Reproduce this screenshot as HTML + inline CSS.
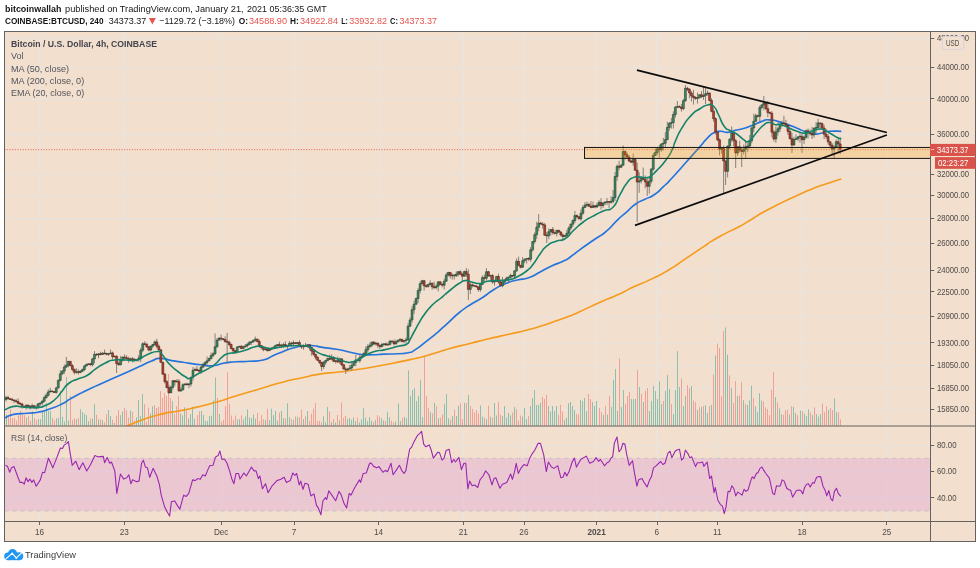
<!DOCTYPE html><html><head><meta charset="utf-8"><title>BTCUSD</title><style>
html,body{margin:0;padding:0;background:#fff;}body{width:980px;height:568px;overflow:hidden;position:relative;font-family:"Liberation Sans",sans-serif;}svg{position:absolute;left:0;top:0;display:block;will-change:transform}text{font-family:"Liberation Sans",sans-serif}
</style></head><body>
<svg width="980" height="568" viewBox="0 0 980 568">
<text x="5" y="11.9" font-size="9.3" fill="#161616" font-weight="bold" textLength="56.5" lengthAdjust="spacingAndGlyphs">bitcoinwallah</text>
<text x="65" y="11.9" font-size="9.3" fill="#161616" textLength="178.6" lengthAdjust="spacingAndGlyphs">published on TradingView.com, January 21,</text>
<text x="247" y="11.9" font-size="9.3" fill="#161616" textLength="79.75" lengthAdjust="spacingAndGlyphs">2021 05:36:35 GMT</text>
<text x="5" y="24.2" font-size="9.3" fill="#161616" font-weight="bold" textLength="98.5" lengthAdjust="spacingAndGlyphs">COINBASE:BTCUSD, 240</text>
<text x="108.75" y="24.2" font-size="9.3" fill="#161616" textLength="37.5" lengthAdjust="spacingAndGlyphs">34373.37</text>
<path d="M148.9 17.9h6.9l-3.45 6.6z" fill="#e8534c"/>
<text x="159.25" y="24.2" font-size="9.3" fill="#161616" textLength="75.75" lengthAdjust="spacingAndGlyphs">&#8722;1129.72 (&#8722;3.18%)</text>
<text x="238.75" y="24.2" font-size="9.3" fill="#161616" font-weight="bold" textLength="9.25" lengthAdjust="spacingAndGlyphs">O:</text>
<text x="248.9" y="24.2" font-size="9.3" fill="#e8534c" textLength="38.1" lengthAdjust="spacingAndGlyphs">34588.90</text>
<text x="290" y="24.2" font-size="9.3" fill="#161616" font-weight="bold" textLength="8.75" lengthAdjust="spacingAndGlyphs">H:</text>
<text x="300" y="24.2" font-size="9.3" fill="#e8534c" textLength="38" lengthAdjust="spacingAndGlyphs">34922.84</text>
<text x="341.25" y="24.2" font-size="9.3" fill="#161616" font-weight="bold" textLength="6.75" lengthAdjust="spacingAndGlyphs">L:</text>
<text x="349.25" y="24.2" font-size="9.3" fill="#e8534c" textLength="37.75" lengthAdjust="spacingAndGlyphs">33932.82</text>
<text x="390" y="24.2" font-size="9.3" fill="#161616" font-weight="bold" textLength="8" lengthAdjust="spacingAndGlyphs">C:</text>
<text x="399.5" y="24.2" font-size="9.3" fill="#e8534c" textLength="37.5" lengthAdjust="spacingAndGlyphs">34373.37</text>
<rect x="4.5" y="31.5" width="971.0" height="510.0" fill="#f2dfcd"/>
<path d="M39.75 31.5V521.5M124.45 31.5V521.5M221.45 31.5V521.5M294.25 31.5V521.5M378.75 31.5V521.5M463.45 31.5V521.5M524.15 31.5V521.5M596.85 31.5V521.5M657.05 31.5V521.5M717.45 31.5V521.5M802.25 31.5V521.5M886.95 31.5V521.5M4.5 38.5H930.5M4.5 67.3H930.5M4.5 99.05H930.5M4.5 134.5H930.5M4.5 174.2H930.5M4.5 195.8H930.5M4.5 218.55H930.5M4.5 243.55H930.5M4.5 270.3H930.5M4.5 292.05H930.5M4.5 316.8H930.5M4.5 343.05H930.5M4.5 365.55H930.5M4.5 388.55H930.5M4.5 409.55H930.5M4.5 445.55H930.5M4.5 471.55H930.5M4.5 498.05H930.5" stroke="#eae4de" stroke-width="1.3" fill="none"/>
<defs><clipPath id="cm"><rect x="5.0" y="32.0" width="925.0" height="394.0"/></clipPath></defs>
<g clip-path="url(#cm)">
<path d="M6.5 425.7V414.8M26.5 425.7V417.72M32.5 425.7V411.56M38.5 425.7V419.01M40.5 425.7V419.15M42.5 425.7V411.99M44.5 425.7V410.59M46.5 425.7V403M48.5 425.7V411.13M50.5 425.7V411.23M56.5 425.7V418.35M58.5 425.7V417.91M60.5 425.7V391M62.5 425.7V416.93M64.5 425.7V421.54M66.5 425.7V377M68.5 425.7V420.61M76.5 425.7V419.07M80.5 425.7V409.2M82.5 425.7V412.2M84.5 425.7V413.69M86.5 425.7V415.17M88.5 425.7V421.1M92.5 425.7V418.7M94.5 425.7V404M98.5 425.7V419.45M102.5 425.7V420.22M108.5 425.7V409.96M110.5 425.7V416.05M114.5 425.7V422.99M120.5 425.7V415.12M122.5 425.7V411.72M130.5 425.7V410.51M136.5 425.7V417.42M138.5 425.7V400M140.5 425.7V416.15M142.5 425.7V394M150.5 425.7V413.56M152.5 425.7V406.44M172.5 425.7V401M180.5 425.7V413.57M182.5 425.7V415.42M184.5 425.7V407.4M188.5 425.7V418.34M190.5 425.7V414M192.5 425.7V406.87M194.5 425.7V418.78M201.5 425.7V410.98M203.5 425.7V415.01M205.5 425.7V420.93M207.5 425.7V420.81M209.5 425.7V416.25M211.5 425.7V415.68M213.5 425.7V400.48M215.5 425.7V377.5M219.5 425.7V413.98M237.5 425.7V419.46M239.5 425.7V419.22M243.5 425.7V419.33M245.5 425.7V416.45M247.5 425.7V409.46M249.5 425.7V417.47M251.5 425.7V418.09M253.5 425.7V414.57M255.5 425.7V418.81M265.5 425.7V420.07M269.5 425.7V420.22M271.5 425.7V408.78M273.5 425.7V415.16M275.5 425.7V410.9M277.5 425.7V420.57M281.5 425.7V410.98M283.5 425.7V418.26M287.5 425.7V403.29M289.5 425.7V417.3M293.5 425.7V419.83M297.5 425.7V416.8M303.5 425.7V419.04M307.5 425.7V411.27M323.5 425.7V416.35M325.5 425.7V422.34M327.5 425.7V407M331.5 425.7V421.95M335.5 425.7V422.43M339.5 425.7V420.14M347.5 425.7V419.1M349.5 425.7V417.97M351.5 425.7V419.66M353.5 425.7V417.62M355.5 425.7V421.12M359.5 425.7V422.45M361.5 425.7V419.5M363.5 425.7V408.16M365.5 425.7V417.75M367.5 425.7V421.3M369.5 425.7V417.11M371.5 425.7V420.69M375.5 425.7V420.14M381.5 425.7V418.34M383.5 425.7V420.59M387.5 425.7V411.93M389.5 425.7V417.15M395.5 425.7V421.51M398.5 425.7V403.43M400.5 425.7V421.07M404.5 425.7V416.89M406.5 425.7V418.03M408.5 425.7V370.4M410.5 425.7V396M412.5 425.7V390M414.5 425.7V388M416.5 425.7V401M418.5 425.7V396M420.5 425.7V380M422.5 425.7V417.14M430.5 425.7V412.31M434.5 425.7V403M438.5 425.7V418.2M444.5 425.7V404M446.5 425.7V394M448.5 425.7V418.32M452.5 425.7V416.15M456.5 425.7V416M458.5 425.7V405.77M464.5 425.7V402.96M468.5 425.7V395M480.5 425.7V405.54M482.5 425.7V416.58M486.5 425.7V419.31M490.5 425.7V416.81M494.5 425.7V403M496.5 425.7V415.51M502.5 425.7V416.19M504.5 425.7V406M506.5 425.7V417.42M508.5 425.7V412.92M510.5 425.7V415.35M514.5 425.7V407M522.5 425.7V416.58M524.5 425.7V407.73M526.5 425.7V419.18M530.5 425.7V406M532.5 425.7V398M534.5 425.7V390M536.5 425.7V405M538.5 425.7V405M540.5 425.7V403M548.5 425.7V406M550.5 425.7V411.5M552.5 425.7V406M554.5 425.7V411M556.5 425.7V406M564.5 425.7V419.86M566.5 425.7V417.78M568.5 425.7V403.25M570.5 425.7V402M572.5 425.7V406M574.5 425.7V410.17M580.5 425.7V400M582.5 425.7V401M584.5 425.7V398M586.5 425.7V411.15M592.5 425.7V402M594.5 425.7V406M596.5 425.7V401M603.5 425.7V415.02M607.5 425.7V414.53M611.5 425.7V407.04M613.5 425.7V380M615.5 425.7V369M617.5 425.7V410.82M621.5 425.7V407M623.5 425.7V390M631.5 425.7V399M633.5 425.7V399M635.5 425.7V399M639.5 425.7V387M643.5 425.7V402M649.5 425.7V411M651.5 425.7V401M653.5 425.7V386M655.5 425.7V391M657.5 425.7V399M659.5 425.7V381.4M661.5 425.7V404M665.5 425.7V391M667.5 425.7V375M669.5 425.7V389M673.5 425.7V414M675.5 425.7V390M677.5 425.7V351.3M679.5 425.7V387M683.5 425.7V406M685.5 425.7V396M691.5 425.7V386M697.5 425.7V410M701.5 425.7V407M705.5 425.7V405.4M707.5 425.7V413M711.5 425.7V405M715.5 425.7V355.4M725.5 425.7V327.4M727.5 425.7V354.6M731.5 425.7V388M737.5 425.7V396M743.5 425.7V400.3M747.5 425.7V405M749.5 425.7V400.3M751.5 425.7V385.6M755.5 425.7V406.4M757.5 425.7V411.7M759.5 425.7V393.1M761.5 425.7V400.5M775.5 425.7V397.2M779.5 425.7V408.4M781.5 425.7V414.2M789.5 425.7V414.6M793.5 425.7V406.8M795.5 425.7V413.1M800.5 425.7V410.5M804.5 425.7V413.6M806.5 425.7V416.2M808.5 425.7V409.5M812.5 425.7V415.2M816.5 425.7V414.2M818.5 425.7V416.6M820.5 425.7V414.2M828.5 425.7V410M834.5 425.7V398.4M836.5 425.7V412.1" stroke="#8ac0ad" stroke-width="1" fill="none"/>
<path d="M8.5 425.7V415.6M10.5 425.7V408.69M12.5 425.7V418.28M14.5 425.7V417.96M16.5 425.7V420.55M18.5 425.7V415.49M20.5 425.7V410.67M22.5 425.7V414.98M24.5 425.7V415.36M28.5 425.7V416.23M30.5 425.7V420.94M34.5 425.7V418.09M36.5 425.7V420.03M52.5 425.7V417.95M54.5 425.7V420.45M70.5 425.7V396M72.5 425.7V419.92M74.5 425.7V418.52M78.5 425.7V418.18M90.5 425.7V418.53M96.5 425.7V414.82M100.5 425.7V419.4M104.5 425.7V422.19M106.5 425.7V414.31M112.5 425.7V419.82M116.5 425.7V415.83M118.5 425.7V410.12M124.5 425.7V407.87M126.5 425.7V410.24M128.5 425.7V417.79M132.5 425.7V412.11M134.5 425.7V420.7M144.5 425.7V404M146.5 425.7V421.56M148.5 425.7V407.72M154.5 425.7V405M156.5 425.7V408M158.5 425.7V407M160.5 425.7V391M162.5 425.7V398M164.5 425.7V393M166.5 425.7V396M168.5 425.7V374M170.5 425.7V398M174.5 425.7V414M176.5 425.7V406M178.5 425.7V396M186.5 425.7V410.95M197.5 425.7V415.23M199.5 425.7V411.32M217.5 425.7V398M221.5 425.7V421.7M223.5 425.7V419.86M225.5 425.7V406M227.5 425.7V372.4M229.5 425.7V404M231.5 425.7V415.53M233.5 425.7V419.9M235.5 425.7V415.59M241.5 425.7V415.35M257.5 425.7V412.82M259.5 425.7V421.13M261.5 425.7V415.2M263.5 425.7V419.3M267.5 425.7V408.61M279.5 425.7V412.49M285.5 425.7V418.32M291.5 425.7V419.25M295.5 425.7V416.33M299.5 425.7V417.39M301.5 425.7V409.55M305.5 425.7V416.26M309.5 425.7V420.76M311.5 425.7V413.65M313.5 425.7V408.77M315.5 425.7V403M317.5 425.7V420.97M319.5 425.7V420.84M321.5 425.7V422.32M329.5 425.7V411.3M333.5 425.7V419.01M337.5 425.7V414.93M341.5 425.7V402.5M343.5 425.7V417.83M345.5 425.7V415.96M357.5 425.7V417.8M373.5 425.7V422.01M377.5 425.7V415.12M379.5 425.7V416.62M385.5 425.7V420.93M391.5 425.7V420.65M393.5 425.7V422.71M402.5 425.7V418.1M424.5 425.7V356M426.5 425.7V396M428.5 425.7V408M432.5 425.7V413.26M436.5 425.7V406M440.5 425.7V417.74M442.5 425.7V414.52M450.5 425.7V419.65M454.5 425.7V409.73M460.5 425.7V403M462.5 425.7V419.1M466.5 425.7V403M470.5 425.7V406M472.5 425.7V408.94M474.5 425.7V412.39M476.5 425.7V409.92M478.5 425.7V413.58M484.5 425.7V417.72M488.5 425.7V405.67M492.5 425.7V417.89M498.5 425.7V402M500.5 425.7V414.74M512.5 425.7V412.4M516.5 425.7V409M518.5 425.7V420.79M520.5 425.7V415.52M528.5 425.7V416.16M542.5 425.7V397M544.5 425.7V399M546.5 425.7V395M558.5 425.7V414.85M560.5 425.7V404.84M562.5 425.7V411.44M576.5 425.7V414M578.5 425.7V414.55M588.5 425.7V393.82M590.5 425.7V399M599.5 425.7V408M601.5 425.7V411.99M605.5 425.7V406M609.5 425.7V396.02M619.5 425.7V358.4M625.5 425.7V404M627.5 425.7V396M629.5 425.7V392M637.5 425.7V370M641.5 425.7V394M645.5 425.7V391M647.5 425.7V388M663.5 425.7V401M671.5 425.7V404M681.5 425.7V378.5M687.5 425.7V385M689.5 425.7V388M693.5 425.7V400.5M695.5 425.7V402M699.5 425.7V407.5M703.5 425.7V406M709.5 425.7V406M713.5 425.7V374.4M717.5 425.7V343.4M719.5 425.7V348M721.5 425.7V396.4M723.5 425.7V331M729.5 425.7V375.4M733.5 425.7V403M735.5 425.7V381M739.5 425.7V395.4M741.5 425.7V382M745.5 425.7V404M753.5 425.7V398.2M763.5 425.7V401.5M765.5 425.7V407.4M767.5 425.7V409M769.5 425.7V415.2M771.5 425.7V389.7M773.5 425.7V372.3M777.5 425.7V402.5M783.5 425.7V414.8M785.5 425.7V410M787.5 425.7V409.7M791.5 425.7V406.2M797.5 425.7V415.2M802.5 425.7V411.1M810.5 425.7V412.5M814.5 425.7V407.4M822.5 425.7V403.6M824.5 425.7V412.1M826.5 425.7V406.4M830.5 425.7V408M832.5 425.7V410M838.5 425.7V412.1M840.5 425.7V419.3" stroke="#f0a096" stroke-width="1" fill="none"/>
<path d="M4.5 149.6H930.5" stroke="#e8534c" stroke-width="1" stroke-dasharray="1 1.6" fill="none" opacity="0.9"/>
<path d="M127 426C131.97 424 130.83 423.87 141.9 420C152.97 416.13 148 417.4 160.2 414.4C172.4 411.4 168.57 412.9 178.5 411C188.43 409.1 178.53 411.37 190 408.7C201.47 406.03 197.63 407.23 212.9 403C228.17 398.77 220.57 400.6 235.8 396C251.03 391.4 243.37 393.73 258.6 389.2C273.83 384.67 266.23 386.37 281.5 382.4C296.77 378.43 292.23 379.97 304.4 377.3C316.57 374.63 306.57 376.17 318 374.4C329.43 372.63 327.97 373.3 338.7 372C349.43 370.7 338.77 372.17 350.2 370.5C361.63 368.83 360.07 369.17 373 367C385.93 364.83 380.6 365.63 389 364C397.4 362.37 391.2 363.57 398.2 362.1C405.2 360.63 401.57 361.47 410 359.6C418.43 357.73 414.5 358.87 423.5 356.5C432.5 354.13 428.17 355.17 437 352.5C445.83 349.83 439 351.5 450 348.5C461 345.5 456.67 346.83 470 343.5C483.33 340.17 476.67 341.67 490 338.5C503.33 335.33 496.7 337.07 510 334C523.3 330.93 516.03 333.17 529.9 329.3C543.77 325.43 539.03 326.6 551.6 322.4C564.17 318.2 558.47 320.17 567.6 316.7C576.73 313.23 568.2 316.83 579 312C589.8 307.17 587.3 307.83 600 302.2C612.7 296.57 605.67 300.3 617.1 295.1C628.53 289.9 622.87 291.93 634.3 286.6C645.73 281.27 639.97 284.63 651.4 279.1C662.83 273.57 657.17 276.83 668.6 270C680.03 263.17 674.27 266.23 685.7 258.6C697.13 250.97 693.93 253.1 702.9 247.1C711.87 241.1 705.17 245.1 712.6 240.6C720.03 236.1 716.43 238.23 725.2 233.6C733.97 228.97 729.77 231.67 738.9 226.7C748.03 221.73 744.23 223.67 752.6 218.7C760.97 213.73 754.87 216.87 764 211.8C773.13 206.73 769.33 208.77 780 203.5C790.67 198.23 785.33 200.83 796 196C806.67 191.17 802.07 193.03 812 189C821.93 184.97 816.03 187.27 825.8 183.9C835.57 180.53 836.13 180.57 841.3 178.9" fill="none" stroke="#f59a1b" stroke-width="1.6" stroke-linejoin="round"/>
<path d="M5 417.8C7.9 416.67 6.2 415.9 13.7 414.4C21.2 412.9 19.1 414.1 27.5 413.3C35.9 412.5 31.3 413.53 38.9 412C46.5 410.47 42.67 411.37 50.3 408.7C57.93 406.03 54.17 407.8 61.8 404C69.43 400.2 63.3 402.63 73.2 397.3C83.1 391.97 77.77 394.5 91.5 388C105.23 381.5 99.13 384.63 114.4 377.8C129.67 370.97 125.1 373 137.3 367.5C149.5 362 143.37 364.33 151 361.3C158.63 358.27 153.33 358.63 160.2 358.4C167.07 358.17 164 359.33 171.6 360.6C179.2 361.87 176.87 361.27 183 362.2C189.13 363.13 183.87 362.53 190 363.4C196.13 364.27 193.77 364.03 201.4 364.8C209.03 365.57 205.27 366.3 212.9 365.7C220.53 365.1 216.67 364.3 224.3 363C231.93 361.7 227.4 362.37 235.8 361.8C244.2 361.23 240.37 361.9 249.5 361.3C258.63 360.7 255.57 361.77 263.2 360C270.83 358.23 266.3 358.6 272.4 356C278.5 353.4 274.63 354.87 281.5 352.2C288.37 349.53 285.37 350.13 293 348C300.63 345.87 297.53 346.53 304.4 345.8C311.27 345.07 307.5 345.27 313.6 345.8C319.7 346.33 315.07 346.27 322.7 347.4C330.33 348.53 327.33 347.6 336.5 349.2C345.67 350.8 341.83 350.43 350.2 352.2C358.57 353.97 354 353.67 361.6 354.5C369.2 355.33 365.53 354.83 373 354.7C380.47 354.57 375.6 354.43 384 354.1C392.4 353.77 390.2 354.17 398.2 353.7C406.2 353.23 402.4 353.97 408 352.7C413.6 351.43 408.9 353.67 415 349.9C421.1 346.13 418.77 347.27 426.3 341.4C433.83 335.53 432.83 336.23 437.6 332.3C442.37 328.37 436.93 332.9 440.6 329.6C444.27 326.3 442.13 328.27 448.6 322.4C455.07 316.53 452.37 318.13 460 312C467.63 305.87 463.83 308.9 471.5 304C479.17 299.1 475.37 302.23 483 297.3C490.63 292.37 486.77 293.8 494.4 289.2C502.03 284.6 498.27 286.57 505.9 283.5C513.53 280.43 509.7 281.9 517.3 280C524.9 278.1 521.07 280.47 528.7 277.8C536.33 275.13 532.57 275.93 540.2 272C547.83 268.07 544 269.57 551.6 266C559.2 262.43 556.87 264.23 563 261.3C569.13 258.37 564.67 260.87 570 257.2C575.33 253.53 570.77 256.27 579 250.3C587.23 244.33 585.63 245.63 594.7 239.3C603.77 232.97 598.57 237.8 606.2 231.3C613.83 224.8 610.73 226.3 617.6 219.8C624.47 213.3 620.67 217.13 626.8 211.8C632.93 206.47 629.93 208 636 203.8C642.07 199.6 638.93 202.23 645 199.2C651.07 196.17 648.07 198.87 654.2 194.7C660.33 190.53 657.3 192.43 663.4 186.7C669.5 180.97 666.4 184 672.5 177.5C678.6 171 675.57 174.07 681.7 167.2C687.83 160.33 684.8 163.77 690.9 156.9C697 150.03 694.67 152.7 700 146.6C705.33 140.5 702.33 143.17 706.9 138.6C711.47 134.03 709.13 135.33 713.7 132.9C718.27 130.47 716 131.47 720.6 131.3C725.2 131.13 722.93 132.63 727.5 132.4C732.07 132.17 728.97 131.9 734.3 130.6C739.63 129.3 737.4 130.3 743.5 128.5C749.6 126.7 746.5 127.57 752.6 125.2C758.7 122.83 756.43 123.2 761.8 121.4C767.17 119.6 763.33 119.8 768.7 119.8C774.07 119.8 771.7 119.87 777.9 121.4C784.1 122.93 781.1 122.2 787.3 124.4C793.5 126.6 790.4 125.57 796.5 128C802.6 130.43 799.5 129.7 805.6 131.7C811.7 133.7 809.33 133.57 814.8 134C820.27 134.43 817.13 133.9 822 133C826.87 132.1 822.97 131.87 829.4 131.3C835.83 130.73 837.33 131.3 841.3 131.3" fill="none" stroke="#2374dd" stroke-width="1.65" stroke-linejoin="round"/>
<path d="M6.05 395.91V401.61M26.15 404.35V409.71M32.18 403.76V408.08M38.21 403.09V408.37M40.22 402.51V406.16M42.23 400.06V405.52M44.24 395.83V402.43M46.25 393.33V398.54M48.26 389.34V396.5M50.27 387.8V392.33M56.3 386.77V393.56M58.31 379.55V388.64M60.32 370.41V381.58M62.33 369.99V375.05M64.34 364.64V373.93M66.35 357V368.08M68.36 360.88V367.31M76.4 368.17V373.75M80.42 370.34V373.21M82.43 368.6V371.75M84.44 364.94V370.95M86.45 363.35V366.28M88.46 363.29V365.11M92.48 357.8V366.3M94.49 351.17V363.26M98.51 353.23V358.27M102.53 352.35V354.9M108.56 353.05V355.98M110.57 349.56V354.19M114.59 355.61V357.44M120.62 355.91V365.38M122.63 356.53V361.49M130.67 357.49V359.89M136.7 359.04V361.45M138.71 355.29V361.63M140.72 347.86V362.12M142.73 342.27V352.08M150.77 345.51V351.48M152.78 344.17V348.04M154.79 340.36V345.64M170.87 385.77V393.37M172.88 380.1V389.31M176.9 379.04V382.28M180.92 387.19V392.03M182.93 383.22V390.48M184.94 383.2V385.67M188.96 382.95V388.21M190.97 376.6V386.5M192.98 367.04V380.44M194.99 367.63V371.13M201.02 365.78V373.81M203.03 362.78V367.98M205.04 361.22V366.87M207.05 356.39V364.67M209.06 357.55V361.28M211.07 352.67V359.54M213.08 352.24V357.09M215.09 333.5V355.06M217.1 338.02V347.99M219.11 337.34V340.69M237.2 346.11V353.24M239.21 345.99V347.62M243.23 345.65V349.12M245.24 344.01V347.68M247.25 342.76V347.43M249.26 340.94V344.97M251.27 340.96V345.1M253.28 339.66V342.58M255.29 336.55V341.67M265.34 346.69V350.26M269.36 347.68V350.99M271.37 347.12V349.83M273.38 346.05V348.81M275.39 344.89V348.14M277.4 343.93V346.93M281.42 343.89V347.38M283.43 342.83V347.64M287.45 344.87V349.3M289.46 341.04V346.03M293.48 340.49V345.68M297.5 341.81V344.31M303.53 344.38V349.72M307.55 344.37V347.76M323.63 360.93V368.95M325.64 359.79V364.48M327.65 357.49V361.03M331.67 354.43V360.29M335.69 359.88V363.69M339.71 357.78V363.94M347.75 367.94V371.12M349.76 364.97V369.33M351.77 362.37V370.62M353.78 361.07V366.32M355.79 355.12V366.29M359.81 354.86V362.67M361.82 354.74V358.3M363.83 352.13V356.5M365.84 346.3V354.62M367.85 344.06V352.55M369.86 342.48V347.77M371.87 341.64V347.16M375.89 341.77V345.57M381.92 342.79V347.44M383.93 343.01V345.76M387.95 342.38V345.44M389.96 340.5V345.33M395.99 339.88V344.94M398 339.64V342.58M400.01 337.93V341.85M404.03 340.17V343.38M406.04 337.49V343.59M408.05 323.19V340.64M410.06 317.35V326.87M412.07 306.19V322.91M414.08 300.83V313.98M416.09 297.45V305.21M418.1 288.28V303.16M420.11 281.36V293.53M422.12 279.86V284.19M428.15 283.85V287.69M430.16 280.39V285.17M436.19 284.13V289.34M438.2 281.45V291.55M444.23 278.67V289.51M446.24 272.89V281.93M448.25 271.65V276.51M452.27 273.35V279.54M456.29 271.48V276.85M458.3 271.03V276.42M464.33 270.64V276.77M470.36 282.62V294.07M480.41 283.07V291.77M482.42 275.36V284.95M486.44 268.23V280.6M490.46 274.97V279.82M494.48 280.8V285.6M496.49 276.12V281.82M502.52 276.88V287.32M504.53 279.48V284.58M506.54 276.69V280.67M508.55 276.64V282.3M510.56 273.67V278.66M514.58 270.55V277.96M516.59 258.43V271.73M522.62 257.11V267.61M524.63 258.66V263.11M526.64 258.13V263.5M530.66 247.09V261.91M532.67 241.24V251.62M534.68 232.38V243.68M536.69 221.73V238.97M538.7 214V231.26M548.75 228.49V239.17M550.76 228.98V235.62M556.79 229.93V236.49M564.83 234.54V237.15M566.84 230.08V236.96M568.85 226.02V236.31M570.86 223.45V230.06M572.87 219.24V226.94M574.88 211V222.99M580.91 209.39V220.95M582.92 205.38V215.04M584.93 202.17V207.97M586.94 201.64V207.01M592.97 201.6V207.94M596.99 202.6V207.69M599 200.24V206.55M603.02 202.19V207.95M605.03 200.99V205.11M607.04 197.97V205.02M611.06 196.38V203.84M613.07 190.04V203.39M615.08 172.09V200.86M617.09 164.51V180.8M621.11 164.1V167.91M623.12 145.5V165.7M633.17 153.54V165.84M639.2 172.28V192.76M641.21 176.4V183.55M649.25 176.27V193.69M651.26 167.96V183.46M653.27 152.88V170.74M655.28 148.66V155.97M657.29 147.57V154.84M661.31 143.24V151.89M663.32 137.9V150.4M665.33 132.21V147.47M667.34 121.67V140.15M669.35 122.07V130.69M671.36 118.04V128.67M673.37 111.33V128.62M675.38 105.71V117.47M677.39 101V108.09M683.42 98.79V110.17M685.43 85V101.69M697.49 92.7V103.55M699.5 94.38V98.49M703.52 86.9V99.94M705.53 88V104.12M707.54 90.42V95.6M721.61 148.07V153.7M727.64 145.68V177.39M729.65 138.28V149.14M731.66 126.46V142.15M737.69 146.36V155.99M743.72 144.58V154.65M745.73 141.12V158.38M747.74 142.67V151.75M749.75 134.95V148.59M751.76 126.71V143.38M753.77 113.76V132M755.78 113.62V121.78M759.8 105.35V121.48M761.81 104.46V109.12M763.82 96V110.26M775.88 126.55V142.85M777.89 126.94V135.54M779.9 123.86V132.06M781.91 120.63V126.91M793.97 136.76V145.37M795.98 134.32V139.86M797.99 136V141.22M800 132.14V142.74M804.02 135.74V143.94M806.03 129.55V138.71M814.07 127.25V137.83M816.08 122.2V133.37M818.09 118.65V128.87M834.17 145.6V159M836.18 139.53V147.79M8.06 395.78V399.39M10.07 398.03V399.7M12.08 397.7V401.27M14.09 399.41V403.25M16.1 399.09V402.6M18.11 398.31V404.56M20.12 402.08V405.28M22.13 402.9V408.61M24.14 405.6V407.61M28.16 404.19V408.43M30.17 405.25V409.55M34.19 405.29V408.91M36.2 404.75V409.63M52.28 390.54V392.29M54.29 391V393.07M70.37 361.06V366.16M72.38 364.05V371.28M74.39 368.51V374.38M78.41 369.36V374.75M90.47 362.85V365.67M96.5 353.42V355.72M100.52 351.68V355.39M104.54 349.61V354.32M106.55 352.67V355.3M112.58 351.54V359.47M116.6 355.62V373M118.61 361.63V365.54M124.64 354.35V360.4M126.65 355.18V359.35M128.66 356.63V362.66M132.68 357.07V362.32M134.69 358.02V361.7M144.74 341.21V345.14M146.75 342.61V347.88M148.76 346.11V351.31M156.8 338.66V348.28M158.81 344.38V350.98M160.82 349.16V362.63M162.83 361.93V374.56M164.84 373V383.5M166.85 380.04V388.39M168.86 384.73V393.87M174.89 380.15V385.65M178.91 379.07V391.73M186.95 382.61V385.46M197 366.19V371.03M199.01 368.82V371.68M221.12 334.48V340.71M223.13 338.29V340.39M225.14 336.33V343.01M227.15 333V364M229.16 340.53V346.17M231.17 343.46V349.37M233.18 347.78V352.34M235.19 350.38V353.23M241.22 345.03V349.14M257.3 338.53V342.41M259.31 339.65V347.54M261.32 345.18V349.11M263.33 346.28V351.35M267.35 347.31V351.27M279.41 341.75V346.79M285.44 341.46V347.26M291.47 341.88V346.96M295.49 342.29V344.14M299.51 340.23V346.99M301.52 344.84V348.88M305.54 342.9V347.08M309.56 344.22V350.42M311.57 347.03V355.65M313.58 349.48V355.81M315.59 353.78V359.73M317.6 356.2V361.01M319.61 359.94V364.2M321.62 361.72V371M329.66 354.62V360.06M333.68 356.05V362.07M337.7 356.57V362.83M341.72 358.24V366.13M343.73 364.1V369.32M345.74 367.43V374M357.8 358.47V361.45M373.88 341.04V345.32M377.9 342.25V348.1M379.91 344.91V349.17M385.94 342.47V345.42M391.97 340.66V343.25M393.98 339.47V345.65M402.02 338.5V342.57M424.13 279.91V290.54M426.14 284.41V287.86M432.17 282.56V289.81M434.18 281.6V289.06M440.21 281.39V285.09M442.22 283.14V287.39M450.26 272.04V278.46M454.28 274.16V279.51M460.31 270.3V275.01M462.32 272.78V281.88M466.34 267.94V277.03M468.35 269.21V300M472.37 283.48V287.51M474.38 285.13V286.64M476.39 284.89V287.49M478.4 286.09V291.66M484.43 274.44V281.89M488.45 270.87V276.56M492.47 274.26V283.73M498.5 273.63V283.66M500.51 280.12V286.18M512.57 274.94V277.23M518.6 256.74V266.17M520.61 264.96V268.44M528.65 257.24V260.93M540.71 221.85V224.44M542.72 222.1V228.81M544.73 222.9V235.89M546.74 232.13V243M552.77 226.99V234.69M554.78 231.57V234.51M558.8 229.93V232.62M560.81 231.13V236.52M562.82 233.63V240.35M576.89 214.4V218.03M578.9 216.31V219.37M588.95 202.95V206.56M590.96 201.14V208.35M594.98 205.07V208.36M601.01 198.13V209.58M609.05 201.21V208.37M619.1 160.68V170.25M625.13 150.36V159.46M627.14 152.6V157.79M629.15 155.28V162.12M631.16 159.62V162.7M635.18 157.87V170.61M637.19 162.87V222M643.22 167.5V180.06M645.23 175.4V188.24M647.24 178.24V196M659.3 144.96V157.54M679.4 105.25V107.57M681.41 103.89V111.65M687.44 86.87V91.08M689.45 88.22V98.32M691.46 91.17V101.52M693.47 89.8V104.56M695.48 96.2V100.1M701.51 91.16V98.19M709.55 92.63V101.37M711.56 98.23V112.33M713.57 107.47V121.75M715.58 117.42V134.62M717.59 131.5V141.3M719.6 138.34V155.33M723.62 145.63V193.5M725.63 160.53V185M733.67 132V146.37M735.68 138.88V168M739.7 140.76V152.34M741.71 147.23V167M757.79 114.78V117.32M765.83 101.72V109.79M767.84 100.85V117.34M769.85 111.53V114.19M771.86 111.01V137.2M773.87 129.84V141.53M783.92 115.76V124.2M785.93 119.81V126.38M787.94 124.59V135.01M789.95 128.72V139.56M791.96 132.82V153M802.01 133.28V153M808.04 128.5V138.63M810.05 129.49V135.59M812.06 126.87V138.96M820.1 122.56V128.72M822.11 122.45V129.99M824.12 124.87V139.15M826.13 128.78V138.95M828.14 133.73V144.65M830.15 141.33V147.61M832.16 143.15V155.3M838.19 138.21V152.07M840.2 137.26V154.26" stroke="#7a7672" stroke-width="0.9" fill="none"/>
<path d="M5.1 397.53h1.9v1.94h-1.9zM25.2 405.3h1.9v1.84h-1.9zM31.23 405.76h1.9v1.16h-1.9zM37.26 403.83h1.9v4.21h-1.9zM39.27 403h1.9v0.83h-1.9zM41.28 401.3h1.9v1.7h-1.9zM43.29 397.64h1.9v3.66h-1.9zM45.3 395.3h1.9v2.34h-1.9zM47.31 391.9h1.9v3.4h-1.9zM49.32 391h1.9v0.9h-1.9zM55.35 387.88h1.9v4.52h-1.9zM57.36 380.29h1.9v7.58h-1.9zM59.37 373.8h1.9v6.49h-1.9zM61.38 371.11h1.9v2.68h-1.9zM63.39 366.98h1.9v4.13h-1.9zM65.4 365.22h1.9v1.76h-1.9zM67.41 361.37h1.9v3.85h-1.9zM75.45 371.63h1.9v0.7h-1.9zM79.47 371.23h1.9v1.24h-1.9zM81.48 369.44h1.9v1.79h-1.9zM83.49 365.98h1.9v3.46h-1.9zM85.5 364.54h1.9v1.44h-1.9zM87.51 363.82h1.9v0.72h-1.9zM91.53 358.95h1.9v5.84h-1.9zM93.54 354.34h1.9v4.61h-1.9zM97.56 353.81h1.9v1.24h-1.9zM101.58 353h1.9v1.51h-1.9zM107.61 353.6h1.9v0.7h-1.9zM109.62 352.9h1.9v0.7h-1.9zM113.64 356.14h1.9v0.7h-1.9zM119.67 360.09h1.9v4.7h-1.9zM121.68 357.04h1.9v3.05h-1.9zM129.72 358.76h1.9v0.7h-1.9zM135.75 359.74h1.9v0.7h-1.9zM137.76 357.94h1.9v1.8h-1.9zM139.77 350.19h1.9v7.75h-1.9zM141.78 343.73h1.9v6.46h-1.9zM149.82 346.12h1.9v3.94h-1.9zM151.83 344.56h1.9v1.55h-1.9zM153.84 341.89h1.9v2.67h-1.9zM169.92 387.16h1.9v5.47h-1.9zM171.93 380.66h1.9v6.5h-1.9zM175.95 381.21h1.9v0.7h-1.9zM179.97 389.75h1.9v1.12h-1.9zM181.98 384.65h1.9v5.09h-1.9zM183.99 383.95h1.9v0.7h-1.9zM188.01 383.95h1.9v0.7h-1.9zM190.02 377.39h1.9v6.57h-1.9zM192.03 370.37h1.9v7.02h-1.9zM194.04 369.44h1.9v0.93h-1.9zM200.07 367.12h1.9v4.12h-1.9zM202.08 364.67h1.9v2.45h-1.9zM204.09 362.59h1.9v2.08h-1.9zM206.1 360.85h1.9v1.74h-1.9zM208.11 358.57h1.9v2.28h-1.9zM210.12 355.6h1.9v2.97h-1.9zM212.13 353.66h1.9v1.94h-1.9zM214.14 346.7h1.9v6.96h-1.9zM216.15 340.1h1.9v6.6h-1.9zM218.16 338.09h1.9v2.01h-1.9zM236.25 347.04h1.9v4.6h-1.9zM238.26 346.29h1.9v0.76h-1.9zM242.28 346.63h1.9v1.89h-1.9zM244.29 345.97h1.9v0.7h-1.9zM246.3 344.51h1.9v1.46h-1.9zM248.31 342.66h1.9v1.85h-1.9zM250.32 341.86h1.9v0.8h-1.9zM252.33 340.26h1.9v1.59h-1.9zM254.34 339.17h1.9v1.1h-1.9zM264.39 348.93h1.9v0.7h-1.9zM268.41 349.51h1.9v1.17h-1.9zM270.42 348.47h1.9v1.04h-1.9zM272.43 347.57h1.9v0.9h-1.9zM274.44 345.56h1.9v2.01h-1.9zM276.45 344.61h1.9v0.95h-1.9zM280.47 345.31h1.9v0.7h-1.9zM282.48 344.61h1.9v0.7h-1.9zM286.5 345.46h1.9v0.7h-1.9zM288.51 343.17h1.9v2.29h-1.9zM292.53 342.64h1.9v1.26h-1.9zM296.55 342.58h1.9v0.86h-1.9zM302.58 345.44h1.9v1.5h-1.9zM306.6 344.77h1.9v1.51h-1.9zM322.68 362.36h1.9v4.18h-1.9zM324.69 360.57h1.9v1.79h-1.9zM326.7 358.55h1.9v2.01h-1.9zM330.72 357.52h1.9v1.73h-1.9zM334.74 360.69h1.9v0.7h-1.9zM338.76 358.87h1.9v3.08h-1.9zM346.8 369h1.9v0.7h-1.9zM348.81 367.88h1.9v1.12h-1.9zM350.82 365.27h1.9v2.61h-1.9zM352.83 362.42h1.9v2.85h-1.9zM354.84 359.9h1.9v2.52h-1.9zM358.86 357.54h1.9v3.06h-1.9zM360.87 356.13h1.9v1.41h-1.9zM362.88 353.44h1.9v2.69h-1.9zM364.89 349.72h1.9v3.72h-1.9zM366.9 346.71h1.9v3.01h-1.9zM368.91 345.16h1.9v1.55h-1.9zM370.92 342.13h1.9v3.03h-1.9zM374.94 343.31h1.9v0.7h-1.9zM380.97 344.55h1.9v2.04h-1.9zM382.98 343.87h1.9v0.7h-1.9zM387 344.39h1.9v0.71h-1.9zM389.01 341.04h1.9v3.35h-1.9zM395.04 341.81h1.9v1.85h-1.9zM397.05 340.23h1.9v1.58h-1.9zM399.06 339.53h1.9v0.7h-1.9zM403.08 340.49h1.9v0.93h-1.9zM405.09 339.79h1.9v0.7h-1.9zM407.1 326.17h1.9v13.62h-1.9zM409.11 319.98h1.9v6.19h-1.9zM411.12 309.73h1.9v10.25h-1.9zM413.13 304.21h1.9v5.52h-1.9zM415.14 298.61h1.9v5.6h-1.9zM417.15 290.51h1.9v8.09h-1.9zM419.16 283.71h1.9v6.81h-1.9zM421.17 280.7h1.9v3h-1.9zM427.2 284.46h1.9v2h-1.9zM429.21 283.31h1.9v1.15h-1.9zM435.24 286.13h1.9v1.39h-1.9zM437.25 281.84h1.9v4.29h-1.9zM443.28 281.24h1.9v3.97h-1.9zM445.29 274.98h1.9v6.26h-1.9zM447.3 272.51h1.9v2.48h-1.9zM451.32 275.07h1.9v0.7h-1.9zM455.34 274.05h1.9v1.8h-1.9zM457.35 271.69h1.9v2.36h-1.9zM463.38 271.62h1.9v4.62h-1.9zM469.41 284.8h1.9v4.59h-1.9zM479.46 284.32h1.9v5.19h-1.9zM481.47 277.61h1.9v6.71h-1.9zM485.49 271.7h1.9v6.61h-1.9zM489.51 275.42h1.9v0.7h-1.9zM493.53 281.35h1.9v0.7h-1.9zM495.54 276.45h1.9v4.9h-1.9zM501.57 282.1h1.9v3.55h-1.9zM503.58 279.8h1.9v2.3h-1.9zM505.59 278.17h1.9v1.63h-1.9zM507.6 277.22h1.9v0.96h-1.9zM509.61 275.41h1.9v1.81h-1.9zM513.63 270.87h1.9v5.23h-1.9zM515.64 261.29h1.9v9.58h-1.9zM521.67 260.67h1.9v6.61h-1.9zM523.68 259.18h1.9v1.49h-1.9zM525.69 258.48h1.9v0.7h-1.9zM529.71 249.76h1.9v9.42h-1.9zM531.72 241.56h1.9v8.2h-1.9zM533.73 234.72h1.9v6.84h-1.9zM535.74 227.2h1.9v7.52h-1.9zM537.75 223.12h1.9v4.08h-1.9zM547.8 231.7h1.9v4.15h-1.9zM549.81 229.51h1.9v2.2h-1.9zM555.84 230.32h1.9v3.04h-1.9zM563.88 235.73h1.9v0.74h-1.9zM565.89 233.23h1.9v2.5h-1.9zM567.9 228h1.9v5.24h-1.9zM569.91 224.12h1.9v3.87h-1.9zM571.92 220.58h1.9v3.55h-1.9zM573.93 215.62h1.9v4.96h-1.9zM579.96 213.16h1.9v5.69h-1.9zM581.97 207.42h1.9v5.74h-1.9zM583.98 205.14h1.9v2.28h-1.9zM585.99 204.44h1.9v0.7h-1.9zM592.02 205.73h1.9v1.69h-1.9zM596.04 205.31h1.9v1.7h-1.9zM598.05 202.43h1.9v2.89h-1.9zM602.07 202.99h1.9v2.52h-1.9zM604.08 202.29h1.9v0.7h-1.9zM606.09 201.61h1.9v0.7h-1.9zM610.11 201.33h1.9v0.99h-1.9zM612.12 197.56h1.9v3.77h-1.9zM614.13 176.54h1.9v21.03h-1.9zM616.14 166.27h1.9v10.27h-1.9zM620.16 165.21h1.9v2.07h-1.9zM622.17 151.49h1.9v13.72h-1.9zM632.22 159.5h1.9v2.83h-1.9zM638.25 180.85h1.9v1.22h-1.9zM640.26 177.74h1.9v3.11h-1.9zM648.3 181.14h1.9v5.17h-1.9zM650.31 169.14h1.9v12h-1.9zM652.32 155.54h1.9v13.6h-1.9zM654.33 152.41h1.9v3.13h-1.9zM656.34 148.83h1.9v3.58h-1.9zM660.36 143.96h1.9v5.73h-1.9zM662.37 143.26h1.9v0.7h-1.9zM664.38 139.61h1.9v3.66h-1.9zM666.39 127.47h1.9v12.14h-1.9zM668.4 123.27h1.9v4.2h-1.9zM670.41 122.57h1.9v0.7h-1.9zM672.42 114.48h1.9v8.09h-1.9zM674.43 107.27h1.9v7.21h-1.9zM676.44 106.56h1.9v0.71h-1.9zM682.47 100.72h1.9v7.89h-1.9zM684.48 88.29h1.9v12.43h-1.9zM696.54 97.61h1.9v0.81h-1.9zM698.55 94.73h1.9v2.88h-1.9zM702.57 95.6h1.9v0.94h-1.9zM704.58 93.74h1.9v1.86h-1.9zM706.59 93.04h1.9v0.7h-1.9zM720.66 148.5h1.9v0.7h-1.9zM726.69 145.99h1.9v25.33h-1.9zM728.7 139.28h1.9v6.71h-1.9zM730.71 132.81h1.9v6.47h-1.9zM736.74 146.84h1.9v6.14h-1.9zM742.77 149.24h1.9v2.24h-1.9zM744.78 146.63h1.9v2.61h-1.9zM746.79 146.02h1.9v0.7h-1.9zM748.8 140.71h1.9v5.3h-1.9zM750.81 127.92h1.9v12.8h-1.9zM752.82 121.19h1.9v6.73h-1.9zM754.83 115.64h1.9v5.55h-1.9zM758.85 107.47h1.9v8.86h-1.9zM760.86 104.87h1.9v2.6h-1.9zM762.87 103.06h1.9v1.81h-1.9zM774.93 131.81h1.9v7.23h-1.9zM776.94 128.83h1.9v2.98h-1.9zM778.95 124.28h1.9v4.55h-1.9zM780.96 123.06h1.9v1.22h-1.9zM793.02 139.45h1.9v5.6h-1.9zM795.03 138.75h1.9v0.7h-1.9zM797.04 136.96h1.9v1.79h-1.9zM799.05 136.28h1.9v0.7h-1.9zM803.07 137.33h1.9v2.41h-1.9zM805.08 130.78h1.9v6.54h-1.9zM813.12 128.27h1.9v6.71h-1.9zM815.13 127.57h1.9v0.7h-1.9zM817.14 122.94h1.9v4.62h-1.9zM833.22 147.23h1.9v1.9h-1.9zM835.23 141.67h1.9v5.56h-1.9z" fill="#3c8a62" stroke="#1d3a2b" stroke-width="0.55"/>
<path d="M7.11 397.53h1.9v1.23h-1.9zM9.12 398.76h1.9v0.7h-1.9zM11.13 399.38h1.9v0.7h-1.9zM13.14 400.08h1.9v0.7h-1.9zM15.15 400.78h1.9v0.79h-1.9zM17.16 401.57h1.9v1.8h-1.9zM19.17 403.37h1.9v0.7h-1.9zM21.18 404.07h1.9v2.37h-1.9zM23.19 406.44h1.9v0.7h-1.9zM27.21 405.3h1.9v0.92h-1.9zM29.22 406.22h1.9v0.7h-1.9zM33.24 405.76h1.9v1.58h-1.9zM35.25 407.34h1.9v0.7h-1.9zM51.33 391h1.9v0.7h-1.9zM53.34 391.7h1.9v0.7h-1.9zM69.42 361.37h1.9v4.35h-1.9zM71.43 365.72h1.9v3.78h-1.9zM73.44 369.5h1.9v2.83h-1.9zM77.46 371.63h1.9v0.84h-1.9zM89.52 363.82h1.9v0.97h-1.9zM95.55 354.34h1.9v0.7h-1.9zM99.57 353.81h1.9v0.7h-1.9zM103.59 353h1.9v0.7h-1.9zM105.6 353.6h1.9v0.7h-1.9zM111.63 352.9h1.9v3.94h-1.9zM115.65 356.14h1.9v7.43h-1.9zM117.66 363.57h1.9v1.21h-1.9zM123.69 357.04h1.9v0.7h-1.9zM125.7 357.74h1.9v1.02h-1.9zM127.71 358.76h1.9v0.7h-1.9zM131.73 358.76h1.9v0.82h-1.9zM133.74 359.58h1.9v0.86h-1.9zM143.79 343.73h1.9v0.7h-1.9zM145.8 344.43h1.9v2.47h-1.9zM147.81 346.91h1.9v3.15h-1.9zM155.85 341.89h1.9v4.39h-1.9zM157.86 346.28h1.9v3.48h-1.9zM159.87 349.76h1.9v12.52h-1.9zM161.88 362.29h1.9v11.85h-1.9zM163.89 374.13h1.9v7.5h-1.9zM165.9 381.64h1.9v5.97h-1.9zM167.91 387.61h1.9v5.03h-1.9zM173.94 380.66h1.9v1.25h-1.9zM177.96 381.21h1.9v9.65h-1.9zM186 383.95h1.9v0.7h-1.9zM196.05 369.44h1.9v1.1h-1.9zM198.06 370.54h1.9v0.7h-1.9zM220.17 338.09h1.9v0.7h-1.9zM222.18 338.79h1.9v0.7h-1.9zM224.19 339.47h1.9v1.97h-1.9zM226.2 341.44h1.9v0.7h-1.9zM228.21 342.14h1.9v2.34h-1.9zM230.22 344.48h1.9v4.01h-1.9zM232.23 348.49h1.9v2.27h-1.9zM234.24 350.75h1.9v0.89h-1.9zM240.27 346.29h1.9v2.23h-1.9zM256.35 339.17h1.9v2.38h-1.9zM258.36 341.55h1.9v3.99h-1.9zM260.37 345.54h1.9v1.97h-1.9zM262.38 347.51h1.9v2.11h-1.9zM266.4 348.93h1.9v1.76h-1.9zM278.46 344.61h1.9v1.41h-1.9zM284.49 344.61h1.9v1.54h-1.9zM290.52 343.17h1.9v0.73h-1.9zM294.54 342.64h1.9v0.81h-1.9zM298.56 342.58h1.9v3.32h-1.9zM300.57 345.9h1.9v1.04h-1.9zM304.59 345.44h1.9v0.83h-1.9zM308.61 344.77h1.9v2.84h-1.9zM310.62 347.6h1.9v3.5h-1.9zM312.63 351.1h1.9v3.21h-1.9zM314.64 354.31h1.9v2.97h-1.9zM316.65 357.28h1.9v3.03h-1.9zM318.66 360.3h1.9v2.27h-1.9zM320.67 362.57h1.9v3.96h-1.9zM328.71 358.55h1.9v0.7h-1.9zM332.73 357.52h1.9v3.86h-1.9zM336.75 360.69h1.9v1.27h-1.9zM340.77 358.87h1.9v5.88h-1.9zM342.78 364.75h1.9v4.24h-1.9zM344.79 368.99h1.9v0.7h-1.9zM356.85 359.9h1.9v0.7h-1.9zM372.93 342.13h1.9v1.88h-1.9zM376.95 343.31h1.9v2.05h-1.9zM378.96 345.36h1.9v1.23h-1.9zM384.99 343.87h1.9v1.24h-1.9zM391.02 341.04h1.9v0.7h-1.9zM393.03 341.74h1.9v1.91h-1.9zM401.07 339.53h1.9v1.88h-1.9zM423.18 280.7h1.9v5.06h-1.9zM425.19 285.76h1.9v0.7h-1.9zM431.22 283.31h1.9v3.51h-1.9zM433.23 286.82h1.9v0.7h-1.9zM439.26 281.84h1.9v2.56h-1.9zM441.27 284.4h1.9v0.82h-1.9zM449.31 272.51h1.9v3.26h-1.9zM453.33 275.07h1.9v0.78h-1.9zM459.36 271.69h1.9v2.66h-1.9zM461.37 274.35h1.9v1.9h-1.9zM465.39 271.62h1.9v2.6h-1.9zM467.4 274.21h1.9v15.17h-1.9zM471.42 284.8h1.9v0.7h-1.9zM473.43 285.5h1.9v0.7h-1.9zM475.44 286.2h1.9v0.7h-1.9zM477.45 286.9h1.9v2.62h-1.9zM483.48 277.61h1.9v0.7h-1.9zM487.5 271.7h1.9v4.42h-1.9zM491.52 275.42h1.9v6.62h-1.9zM497.55 276.45h1.9v5.45h-1.9zM499.56 281.9h1.9v3.74h-1.9zM511.62 275.41h1.9v0.7h-1.9zM517.65 261.29h1.9v4.05h-1.9zM519.66 265.34h1.9v1.94h-1.9zM527.7 258.48h1.9v0.7h-1.9zM539.76 223.12h1.9v0.97h-1.9zM541.77 224.08h1.9v0.8h-1.9zM543.78 224.88h1.9v10.28h-1.9zM545.79 235.16h1.9v0.7h-1.9zM551.82 229.51h1.9v3.15h-1.9zM553.83 232.66h1.9v0.7h-1.9zM557.85 230.32h1.9v1.7h-1.9zM559.86 232.02h1.9v2.99h-1.9zM561.87 235.01h1.9v1.46h-1.9zM575.94 215.62h1.9v1.06h-1.9zM577.95 216.68h1.9v2.17h-1.9zM588 204.44h1.9v1.79h-1.9zM590.01 206.23h1.9v1.19h-1.9zM594.03 205.73h1.9v1.29h-1.9zM600.06 202.43h1.9v3.08h-1.9zM608.1 201.61h1.9v0.7h-1.9zM618.15 166.27h1.9v1.01h-1.9zM624.18 151.49h1.9v3.29h-1.9zM626.19 154.79h1.9v2.39h-1.9zM628.2 157.17h1.9v3.9h-1.9zM630.21 161.07h1.9v1.25h-1.9zM634.23 159.5h1.9v10.72h-1.9zM636.24 170.21h1.9v11.86h-1.9zM642.27 177.74h1.9v1.51h-1.9zM644.28 179.25h1.9v2.66h-1.9zM646.29 181.91h1.9v4.4h-1.9zM658.35 148.83h1.9v0.86h-1.9zM678.45 106.56h1.9v0.7h-1.9zM680.46 107.26h1.9v1.35h-1.9zM686.49 88.29h1.9v1.05h-1.9zM688.5 89.34h1.9v3.66h-1.9zM690.51 93h1.9v3.07h-1.9zM692.52 96.07h1.9v1.45h-1.9zM694.53 97.51h1.9v0.9h-1.9zM700.56 94.73h1.9v1.81h-1.9zM708.6 93.04h1.9v7.44h-1.9zM710.61 100.48h1.9v10.79h-1.9zM712.62 111.27h1.9v7.36h-1.9zM714.63 118.63h1.9v13.54h-1.9zM716.64 132.17h1.9v7.7h-1.9zM718.65 139.87h1.9v9.33h-1.9zM722.67 148.5h1.9v12.45h-1.9zM724.68 160.94h1.9v10.38h-1.9zM732.72 132.81h1.9v7.94h-1.9zM734.73 140.76h1.9v12.22h-1.9zM738.75 146.84h1.9v3.11h-1.9zM740.76 149.95h1.9v1.54h-1.9zM756.84 115.64h1.9v0.7h-1.9zM764.88 103.06h1.9v5.58h-1.9zM766.89 108.65h1.9v3.92h-1.9zM768.9 112.57h1.9v0.7h-1.9zM770.91 113.27h1.9v18.89h-1.9zM772.92 132.15h1.9v6.89h-1.9zM782.97 123.06h1.9v0.7h-1.9zM784.98 123.74h1.9v1.63h-1.9zM786.99 125.37h1.9v6.08h-1.9zM789 131.44h1.9v7.22h-1.9zM791.01 138.67h1.9v6.38h-1.9zM801.06 136.28h1.9v3.46h-1.9zM807.09 130.78h1.9v1.81h-1.9zM809.1 132.59h1.9v0.7h-1.9zM811.11 133.29h1.9v1.69h-1.9zM819.15 122.94h1.9v0.7h-1.9zM821.16 123.64h1.9v4.36h-1.9zM823.17 128h1.9v6.27h-1.9zM825.18 134.27h1.9v2.28h-1.9zM827.19 136.55h1.9v5.24h-1.9zM829.2 141.79h1.9v3.44h-1.9zM831.21 145.23h1.9v3.9h-1.9zM837.24 141.67h1.9v2.25h-1.9zM839.25 143.91h1.9v5.32h-1.9z" fill="#b5402d" stroke="#4a1b13" stroke-width="0.55"/>
<path d="M5 409.8C7.9 408.67 7.73 407.33 13.7 406.4C19.67 405.47 15.27 406.63 22.9 407C30.53 407.37 28.97 408.07 36.6 407.5C44.23 406.93 39.7 407.97 45.8 405.3C51.9 402.63 49.57 404.1 54.9 399.5C60.23 394.9 57.23 396.83 61.8 391.5C66.37 386.17 63.27 387.67 68.6 383.5C73.93 379.33 71.67 381.67 77.8 379C83.93 376.33 80.93 378.97 87 375.5C93.07 372.03 89.9 372.77 96 368.6C102.1 364.43 99.17 365.87 105.3 363C111.43 360.13 107.53 361 114.4 360C121.27 359 118.27 360 125.9 360C133.53 360 130.43 361.67 137.3 360C144.17 358.33 139.63 357.83 146.5 355C153.37 352.17 152.57 351.5 157.9 351.5C163.23 351.5 158.7 350.83 162.5 355C166.3 359.17 163.97 358.33 169.3 364C174.63 369.67 173.13 367.77 178.5 372C183.87 376.23 181.57 374.63 185.4 376.7C189.23 378.77 185.47 379.37 190 378.2C194.53 377.03 192.9 376.4 199 373.2C205.1 370 202.9 371.67 208.3 368.6C213.7 365.53 210.63 367.8 215.2 364C219.77 360.2 217.8 360.6 222 357.2C226.2 353.8 223.2 355.33 227.8 353.8C232.4 352.27 230.07 353.77 235.8 352.6C241.53 351.43 238.93 352.17 245 350.3C251.07 348.43 248.67 348.27 254 347C259.33 345.73 255.67 346 261 346.5C266.33 347 263.17 348.33 270 348.5C276.83 348.67 273.83 347.9 281.5 347C289.17 346.1 285.37 346.2 293 345.8C300.63 345.4 298.3 345.07 304.4 345.8C310.5 346.53 306.77 345.73 311.3 348C315.83 350.27 312.67 349.93 318 352.6C323.33 355.27 321.13 354.07 327.3 356C333.47 357.93 330.4 356.47 336.5 358.4C342.6 360.33 340.27 360.67 345.6 361.8C350.93 362.93 347.93 362.73 352.5 361.8C357.07 360.87 353.97 361.67 359.3 359C364.63 356.33 362.4 356.53 368.5 353.8C374.6 351.07 372.43 352.1 377.6 350.8C382.77 349.5 377.13 351.4 384 349.9C390.87 348.4 390.67 348.2 398.2 346.3C405.73 344.4 402.67 346.47 406.6 344.2C410.53 341.93 407.53 343.57 410 339.5C412.47 335.43 410.9 337.7 414 332C417.1 326.3 415.97 328.07 419.3 322.4C422.63 316.73 420.7 319.7 424 315C427.3 310.3 425.53 312.47 429.2 308.3C432.87 304.13 431.27 305.77 435 302.5C438.73 299.23 437.07 301.17 440.4 298.5C443.73 295.83 441.47 297.5 445 294.5C448.53 291.5 446.33 293.17 451 289.5C455.67 285.83 454.07 286.5 459 283.5C463.93 280.5 461.63 281 465.8 280.5C469.97 280 466.53 281 471.5 282C476.47 283 475.37 283.77 480.7 283.5C486.03 283.23 481.4 282.2 487.5 281.2C493.6 280.2 492.17 280.9 499 280.5C505.83 280.1 501.9 281.27 508 280C514.1 278.73 511.13 279.7 517.3 276.7C523.47 273.7 521.17 275.23 526.5 271C531.83 266.77 528.73 269.73 533.3 264C537.87 258.27 535.63 259.87 540.2 253.8C544.77 247.73 541.67 250 547 245.8C552.33 241.6 550.07 243.63 556.2 241.2C562.33 238.77 559.47 242.23 565.4 238.5C571.33 234.77 568.03 235.5 574 230C579.97 224.5 577.13 226.53 583.3 222C589.47 217.47 585.63 220.17 592.5 216.4C599.37 212.63 597.07 213.73 603.9 210.7C610.73 207.67 607.63 212.63 613 207.3C618.37 201.97 615.4 202.73 620 194.7C624.6 186.67 622.23 188.97 626.8 183.2C631.37 177.43 629.3 179.47 633.7 177.4C638.1 175.33 635.4 176.93 640 177C644.6 177.07 643.5 178.27 647.5 177.6C651.5 176.93 648.97 177.33 652 175C655.03 172.67 652 175.5 656.6 170.6C661.2 165.7 660.5 167.5 665.8 160.3C671.1 153.1 669.43 155.1 672.5 149C675.57 142.9 671.9 148.93 675 142C678.1 135.07 676.47 137 681.8 128.2C687.13 119.4 684.93 122.07 691 115.6C697.07 109.13 694.33 112.37 700 108.8C705.67 105.23 703.4 105.67 708 104.9C712.6 104.13 710.33 103.3 713.8 106.5C717.27 109.7 715 108 718.4 114.5C721.8 121 720.2 120.67 724 126C727.8 131.33 725.57 127.83 729.8 130.5C734.03 133.17 732.1 130.93 736.7 134C741.3 137.07 739.83 137.2 743.6 139.7C747.37 142.2 744.97 142.27 748 141.5C751.03 140.73 749.6 140.67 752.7 137.4C755.8 134.13 753.53 135.9 757.3 131.7C761.07 127.5 759.8 127.87 764 124.8C768.2 121.73 766.03 122.5 769.9 122.5C773.77 122.5 772.23 124.17 775.6 124.8C778.97 125.43 775.53 123.33 780 124.4C784.47 125.47 782.9 125.57 789 128C795.1 130.43 792.77 130.03 798.3 131.7C803.83 133.37 800.7 133.3 805.6 133C810.5 132.7 808.1 132.13 813 130.8C817.9 129.47 816.03 129 820.3 129C824.57 129 822.13 129.13 825.8 130.8C829.47 132.47 827.63 131.87 831.3 134C834.97 136.13 833.47 135.53 836.8 137.2C840.13 138.87 839.8 138.4 841.3 139" fill="none" stroke="#14836a" stroke-width="1.6" stroke-linejoin="round"/>
<rect x="584.5" y="147.45" width="360" height="10.95" fill="rgb(255,160,0)" fill-opacity="0.21" stroke="#141414" stroke-width="1"/>
<path d="M636.9 70.1L886.9 132.5M635 225.4L886.9 135" stroke="#0c0c0c" stroke-width="1.65" fill="none"/>
</g>
<rect x="5.0" y="458.3" width="925.0" height="52.6" fill="#e3b2d6" fill-opacity="0.5"/>
<path d="M4.5 458.3H930.5M4.5 510.9H930.5" stroke="#cbbdcc" stroke-width="1" stroke-dasharray="4 4" fill="none"/>
<polyline points="5.61,465.31 7.65,466.58 9.69,472.19 11.48,467.86 14.03,466.58 16.58,473.47 19.9,482.4 22.45,482.4 24.23,484.18 26.02,477.81 28.06,481.63 29.85,479.08 31.89,482.4 33.67,479.85 36.22,486.22 40.31,479.85 42.6,472.19 44.64,472.7 48.47,458.16 50.26,461.99 52.81,467.86 56.63,458.16 60.46,447.96 62.5,448.47 64.29,444.9 66.84,443.37 68.37,441.58 70.15,453.06 72.19,465.31 75.77,461.22 79.08,469.64 82.91,462.76 86.73,470.92 90.56,464.54 94.9,455.61 98.21,456.89 103.32,456.38 104.59,462.76 107.14,457.4 109.69,463.27 111.48,461.99 114.8,470.92 116.84,493.37 120.41,473.98 123.72,479.08 126.79,477.81 128.83,474.74 130.87,483.67 132.65,479.85 136.48,481.63 139.03,481.12 141.58,463.27 143.37,460.2 145.41,467.09 147.45,467.86 149.74,477.3 153.06,468.37 156.89,476.02 159.44,484.95 161.22,495.15 164.54,506.63 167.09,511.73 169.64,516.07 171.43,501.53 174.74,501.02 177.3,505.36 179.85,509.18 183.67,495.15 186.22,496.43 188.78,493.37 192.6,479.85 195.15,480.61 197.7,478.57 200.26,479.34 202.81,474.74 205.36,476.02 207.91,469.64 209.69,465.82 213.01,465.31 215.56,456.89 218.11,455.61 219.9,451.02 221.94,459.44 224.49,458.93 227.04,463.27 229.59,470.92 232.14,479.85 233.93,483.67 235.97,473.47 238.52,473.47 240,479.08 243.83,472.96 246.38,476.02 251.48,467.09 254.03,470.92 256.07,470.92 258.37,478.57 259.9,476.02 262.45,488.78 265.51,483.67 268.06,492.6 271.89,486.22 276.99,480.61 280.82,479.34 284.13,477.3 286.43,482.4 290.26,480.61 292.81,472.96 294.85,475.51 296.63,473.47 299.18,484.95 300.71,481.12 303.01,489.29 305.05,483.16 308.11,484.18 310.92,495.92 313.98,493.88 316.53,505.36 318.32,507.91 320.87,514.8 322.91,501.02 325.46,497.7 326.73,499.49 328.78,490.82 331.84,495.15 335.66,500.77 338.98,491.33 341.28,495.15 344.08,503.57 346.63,507.91 349.18,493.37 350.97,495.15 354.8,487.5 359.39,479.85 360.66,482.4 363.21,473.47 366.28,472.96 369.34,464.03 370.87,462.76 373.93,466.58 376.48,467.86 379.03,466.58 382.86,472.19 385.41,470.41 387.45,471.68 391.02,463.27 393.06,474.74 396.12,470.41 399.44,465.31 401.99,470.92 404.03,473.47 405.82,470.92 407.6,460.71 409.64,449.23 411.43,447.45 413.47,442.86 417.3,435.71 419.85,433.42 421.63,431.38 423.67,444.13 425.71,446.68 429.29,444.9 431.33,450.51 433.37,458.16 437.7,452.3 439.49,452.55 442.04,460.2 444.08,458.16 446.12,450.51 449.18,449.23 451.73,462.76 453.78,459.44 455.56,461.99 458.88,457.4 461.43,469.64 463.98,463.27 465.77,463.27 467.81,488.78 469.59,481.12 472.14,485.71 474.69,484.95 477.76,487.5 480,479.85 483.06,476.02 485.61,470.92 488.93,474.74 491.99,484.95 494.03,478.57 495.82,477.81 499.9,488.27 502.45,484.18 506.79,482.4 510.61,473.98 512.4,479.34 514.44,472.19 516.22,463.27 518.27,473.47 520.82,468.37 523.88,464.54 527.19,465.82 529.74,458.16 532.3,453.57 534.85,450 538.16,443.37 540.46,443.37 543.78,455.1 546.33,471.68 548.37,461.99 551.43,467.09 553.98,468.37 557.81,465.82 560.87,477.81 562.91,477.3 564.95,472.19 566.73,476.02 569.29,470.92 572.35,461.48 574.39,458.16 576.43,467.09 580.77,459.44 584.08,457.4 586.38,456.12 589.69,463.27 593.52,461.48 596.07,457.65 598.62,461.48 600.41,459.44 604.49,465.82 607.04,462.76 608.83,461.99 611.38,457.4 612.65,456.89 614.44,442.86 616.99,436.99 619.03,451.79 621.07,449.23 622.86,443.37 624.9,444.13 626.68,454.34 629.23,465.31 632.55,460.71 634.34,472.19 636.89,486.22 638.67,479.85 641.99,478.57 644.54,483.16 647.09,486.99 649.64,479.85 651.43,476.79 653.47,467.86 656.02,465.82 660.61,461.48 662.91,464.54 664.95,463.27 668.01,453.06 670.05,451.28 671.84,457.65 675.15,451.28 676.94,450 679.49,449.23 681.53,460.2 683.57,458.16 685.36,450 687.91,453.57 689.69,457.65 691.73,456.89 695.56,466.58 697.35,462.76 700,462.76 702.55,461.99 703.83,466.33 707.14,461.99 709.69,478.57 711.48,476.02 714.03,492.6 715.31,487.5 717.86,500.26 720.41,504.59 722.45,506.12 724.23,513.52 726.02,506.63 728.06,491.33 729.85,491.84 731.89,485.71 733.93,488.78 735.71,495.92 737.76,492.09 742.09,495.15 744.13,489.29 745.92,491.33 747.96,490.05 751.02,479.85 752.3,476.79 754.08,478.57 756.63,472.96 757.91,472.96 759.95,468.37 761.99,467.09 763.78,470.41 765.82,473.47 769.39,478.06 771.43,487.5 772.7,493.37 774.49,494.64 776.53,485.71 779.08,486.22 780.36,485.71 782.14,479.85 784.18,481.12 786.73,488.27 789.29,490.05 790.56,490.05 792.6,497.19 796.43,490.56 799.49,490.05 800.77,490.56 802.81,493.88 804.59,487.5 806.63,484.18 808.42,483.67 810.2,486.99 812.76,482.4 814.29,483.16 816.58,477.3 819.39,476.53 820.66,476.79 822.96,486.22 825,490.05 826.79,495.92 828.83,490.56 830.87,498.98 832.65,500.77 834.44,491.33 836.48,488.27 838.27,493.37 840.82,496.43" fill="none" stroke="#9a27b0" stroke-width="1.1" stroke-linejoin="round"/>
<path d="M4.5 426.0H975.5M4.5 521.5H975.5M930.5 31.5V541.5" stroke="#65615f" stroke-width="1" fill="none"/>
<rect x="4.5" y="31.5" width="971.0" height="510.0" fill="none" stroke="#65615f" stroke-width="1"/>
<path d="M931 38.5h3.2M931 67.5h3.2M931 98.5h3.2M931 134.5h3.2M931 174.5h3.2M931 195.5h3.2M931 218.5h3.2M931 243.5h3.2M931 270.5h3.2M931 291.5h3.2M931 316.5h3.2M931 342.5h3.2M931 365.5h3.2M931 388.5h3.2M931 409.5h3.2M931 445.5h3.2M931 471.5h3.2M931 497.5h3.2M39.5 522v3M124.5 522v3M221.5 522v3M294.5 522v3M378.5 522v3M463.5 522v3M524.5 522v3M596.5 522v3M657.5 522v3M717.5 522v3M802.5 522v3M886.5 522v3" stroke="#65615f" stroke-width="1" fill="none"/>
<g font-size="8.2" fill="#4f4b4a" id="plab">
<text x="937" y="41.15" textLength="32" lengthAdjust="spacingAndGlyphs">48000.00</text>
<text x="937" y="69.95" textLength="32" lengthAdjust="spacingAndGlyphs">44000.00</text>
<text x="937" y="101.7" textLength="32" lengthAdjust="spacingAndGlyphs">40000.00</text>
<text x="937" y="137.15" textLength="32" lengthAdjust="spacingAndGlyphs">36000.00</text>
<text x="937" y="176.85" textLength="32" lengthAdjust="spacingAndGlyphs">32000.00</text>
<text x="937" y="198.45" textLength="32" lengthAdjust="spacingAndGlyphs">30000.00</text>
<text x="937" y="221.2" textLength="32" lengthAdjust="spacingAndGlyphs">28000.00</text>
<text x="937" y="246.2" textLength="32" lengthAdjust="spacingAndGlyphs">26000.00</text>
<text x="937" y="272.95" textLength="32" lengthAdjust="spacingAndGlyphs">24000.00</text>
<text x="937" y="294.7" textLength="32" lengthAdjust="spacingAndGlyphs">22500.00</text>
<text x="937" y="319.45" textLength="32" lengthAdjust="spacingAndGlyphs">20900.00</text>
<text x="937" y="345.7" textLength="32" lengthAdjust="spacingAndGlyphs">19300.00</text>
<text x="937" y="368.2" textLength="32" lengthAdjust="spacingAndGlyphs">18050.00</text>
<text x="937" y="391.2" textLength="32" lengthAdjust="spacingAndGlyphs">16850.00</text>
<text x="937" y="412.2" textLength="32" lengthAdjust="spacingAndGlyphs">15850.00</text>
<text x="937" y="448.2" textLength="19.5" lengthAdjust="spacingAndGlyphs">80.00</text>
<text x="937" y="474.2" textLength="19.5" lengthAdjust="spacingAndGlyphs">60.00</text>
<text x="937" y="500.7" textLength="19.5" lengthAdjust="spacingAndGlyphs">40.00</text>
</g>
<g font-size="8.2" fill="#4f4b4a" text-anchor="middle" id="tlab">
<text x="39.5" y="535.4">16</text>
<text x="124.2" y="535.4">23</text>
<text x="221.2" y="535.4">Dec</text>
<text x="294" y="535.4">7</text>
<text x="378.5" y="535.4">14</text>
<text x="463.2" y="535.4">21</text>
<text x="523.9" y="535.4">26</text>
<text x="596.6" y="535.4" font-weight="bold">2021</text>
<text x="656.8" y="535.4">6</text>
<text x="717.2" y="535.4">11</text>
<text x="802" y="535.4">18</text>
<text x="886.7" y="535.4">25</text>
</g>
<rect x="930" y="143.9" width="45.7" height="12.1" fill="#d9534a"/>
<path d="M931 149.5h3.2" stroke="#fff" stroke-width="1" opacity=".6"/>
<rect x="935" y="157.1" width="40.7" height="11.7" fill="#d9534a"/>
<g font-size="8.2" fill="#fff"><text x="937" y="152.7" textLength="31.4" lengthAdjust="spacingAndGlyphs">34373.37</text><text x="938" y="165.7" textLength="30.4" lengthAdjust="spacingAndGlyphs">02:23:27</text></g>
<rect x="942.2" y="36.4" width="21.5" height="13.2" rx="2" fill="#f2dfcd" stroke="#d9d3de" stroke-width="1"/>
<text x="952.6" y="45.9" font-size="8.2" fill="#4f4b4a" text-anchor="middle" textLength="13.4" lengthAdjust="spacingAndGlyphs">USD</text>
<g font-size="9" fill="#53545c" id="leg">
<text x="11" y="47.1" font-weight="bold" fill="#43454f" textLength="146" lengthAdjust="spacingAndGlyphs">Bitcoin / U.S. Dollar, 4h, COINBASE</text>
<text x="11" y="59.2" textLength="12.5" lengthAdjust="spacingAndGlyphs">Vol</text>
<text x="11" y="71.6" textLength="58.1" lengthAdjust="spacingAndGlyphs">MA (50, close)</text>
<text x="11" y="84.1" textLength="73.2" lengthAdjust="spacingAndGlyphs">MA (200, close, 0)</text>
<text x="11" y="96.4" textLength="73.2" lengthAdjust="spacingAndGlyphs">EMA (20, close, 0)</text>
<text x="11" y="441.4" textLength="56.4" lengthAdjust="spacingAndGlyphs">RSI (14, close)</text>
</g>
<g fill="#2196f3"><circle cx="8" cy="556.4" r="3.8"/><circle cx="12.6" cy="553.7" r="4.7"/><circle cx="19.2" cy="556.2" r="4"/><rect x="8" y="555" width="11.2" height="5.2"/></g>
<path d="M5.6 559.2L12.2 553.4L16.3 557.9L21.4 553.1" stroke="#fff" stroke-width="1.1" fill="none" stroke-linejoin="round" stroke-linecap="round"/>
<circle cx="12.2" cy="553.4" r="0.95" fill="#fff"/><circle cx="16.3" cy="557.9" r="0.95" fill="#fff"/>
<text x="25" y="557.9" font-size="9.8" fill="#3a3a3a" textLength="51" lengthAdjust="spacingAndGlyphs">TradingView</text>
</svg></body></html>
